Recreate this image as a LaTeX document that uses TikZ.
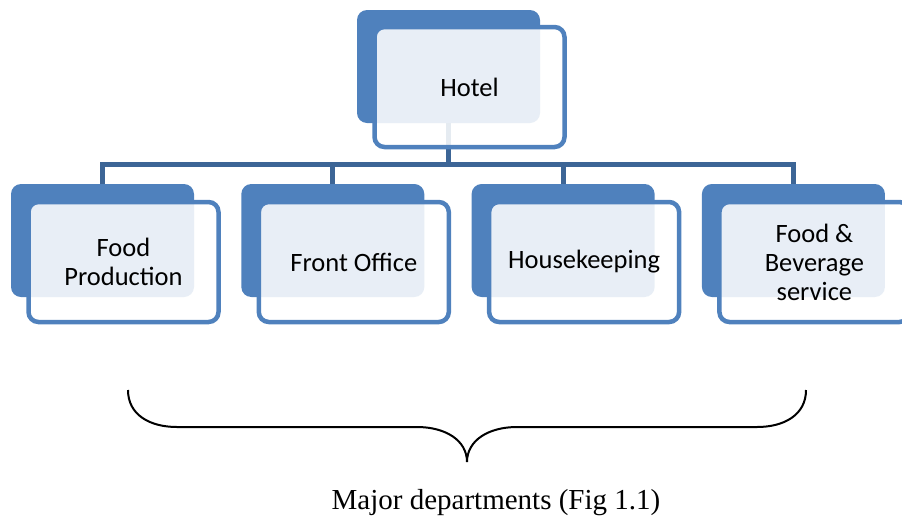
\documentclass[tikz,border=0pt]{standalone}
\usepackage{fontspec}
\setmainfont{Liberation Serif}
\newfontfamily\carlfont{Carlito}
\definecolor{backblue}{HTML}{4F81BD}
\definecolor{edgeblue}{HTML}{4F81BD}
\definecolor{connblue}{HTML}{3C6596}
\tikzset{
  backbox/.style={fill=backblue, rounded corners=10pt, minimum width=183pt, minimum height=113pt, inner sep=0pt},
  frontbox/.style={draw=edgeblue, line width=4.5pt, fill=white, fill opacity=0.87, text opacity=1, draw opacity=1,
     rounded corners=10pt, minimum width=190pt, minimum height=120pt, inner sep=0pt, align=center,
     font=\carlfont\fontsize{26.5}{29}\selectfont},
  conn/.style={draw=connblue, line width=5pt},
  bracestyle/.style={draw=black, line width=2pt}
}
\begin{document}
\begin{tikzpicture}[x=1pt,y=-1pt]
\useasboundingbox (0,0) rectangle (902,517);
% back boxes
\node[backbox] (hb) at (448.5,66.5) {};
\node[backbox] (b1) at (102.5,240.5) {};
\node[backbox] (b2) at (332.8,240.5) {};
\node[backbox] (b3) at (563.1,240.5) {};
\node[backbox] (b4) at (793.4,240.5) {};
% connectors
\coordinate (bar) at (448.5,164.5);
\draw[conn] (hb.south) -- (bar);
\draw[conn] (b1.north) -- (b1.north |- bar) -- (b4.north |- bar) -- (b4.north);
\draw[conn] (b2.north |- bar) -- (b2.north);
\draw[conn] (b3.north |- bar) -- (b3.north);
% front boxes
\node[frontbox] (h)  at (469.5,87) {Hotel};
\node[frontbox] (f1) at (123.5,262) {Food\\Production};
\node[frontbox] (f2) at (353.8,262) {Front Office};
\node[frontbox] (f3) at (584.1,262) {Housekeeping};
\node[frontbox] (f4) at (814.4,262) {Food \&\\Beverage\\service};
% brace
\coordinate (bl) at (128,390);
\coordinate (br) at (806,390);
\coordinate (tip) at (467,462);
\draw[bracestyle] (bl) .. controls (128,415) and (150,427) .. (177,427) -- (417,427)
   .. controls (445,427) and (467,440) .. (tip)
   .. controls (467,440) and (489,427) .. (517,427) -- (757,427)
   .. controls (784,427) and (806,415) .. (br);
\node[anchor=base, font=\fontsize{29}{32}\selectfont, inner sep=0pt] (cap) at (496,509) {Major departments (Fig 1.1)};
\end{tikzpicture}
\end{document}
